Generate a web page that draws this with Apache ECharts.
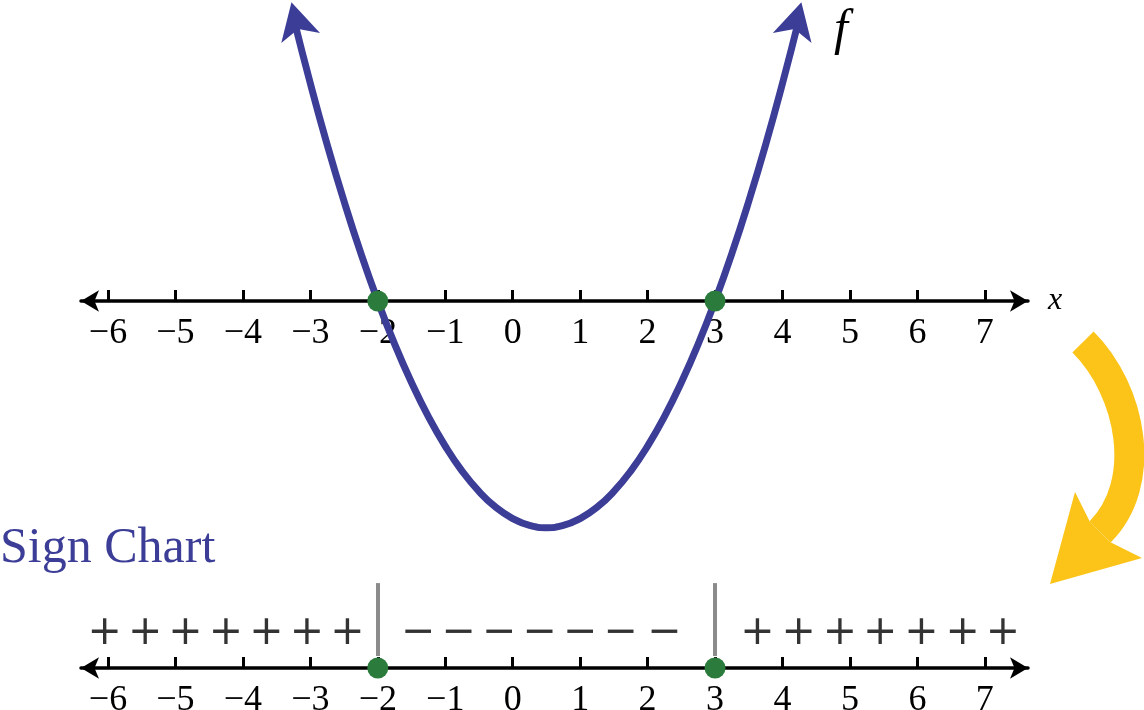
<!DOCTYPE html>
<html><head><meta charset="utf-8">
<script src="https://cdn.jsdelivr.net/npm/echarts@6/dist/echarts.min.js"></script>
<style>html,body{margin:0;padding:0;background:#fff}#c{width:1144px;height:710px}</style>
</head><body><div id="c"></div>
<script>
// ---- data ----
const tickValues = [-6, -5, -4, -3, -2, -1, 0, 1, 2, 3, 4, 5, 6, 7];
const curveX = [-3.25, -3, -2.75, -2.5, -2.25, -2, -1.75, -1.5, -1.25, -1, -0.75, -0.5, -0.25, 0, 0.25, 0.5,
  0.75, 1, 1.25, 1.5, 1.75, 2, 2.25, 2.5, 2.75, 3, 3.25, 3.5, 3.75, 4, 4.25];
const curveY = [7.81, 6, 4.31, 2.75, 1.31, 0, -1.19, -2.25, -3.19, -4, -4.69, -5.25, -5.69, -6, -6.19, -6.25,
  -6.19, -6, -5.69, -5.25, -4.69, -4, -3.19, -2.25, -1.19, 0, 1.31, 2.75, 4.31, 6, 7.81];
const arrowTipX = [-3.28, 4.28];
const arrowTipY = [8.24, 8.24];
const zeros = [-2, 3];
const plusLeftX = [-6.05, -5.45, -4.85, -4.25, -3.65, -3.05, -2.45];
const minusX = [-1.4, -0.8, -0.2, 0.4, 1.0, 1.6, 2.25];
const plusRightX = [3.63, 4.24, 4.85, 5.45, 6.06, 6.67, 7.27];
const signLabels = ['+', '\u2212'];

// ---- styles ----
const BLUE = '#3c3d97', GREEN = '#2b7b3c', GRAY = '#8b8b8b', YELLOW = '#fcc318';
const SERIF = 'Liberation Serif';
const signLevel = 1.15;

function numberAxis(gridIndex, name) {
  return {
    type: 'value', gridIndex: gridIndex, min: -6.4, max: 7.64, position: 'bottom',
    name: name || '', nameLocation: 'end', nameGap: 20,
    nameTextStyle: { fontFamily: SERIF, fontStyle: 'italic', fontSize: 32, color: '#000' },
    axisLine: { onZero: false, symbol: ['arrow', 'arrow'], symbolSize: [16, 18],
      lineStyle: { color: '#000', width: 3.5 } },
    axisTick: { show: true, inside: true, length: 11, customValues: tickValues,
      lineStyle: { color: '#000', width: 3 } },
    axisLabel: { show: true, customValues: tickValues, margin: 15,
      fontFamily: SERIF, fontSize: 36, color: '#000',
      formatter: function (v) { return v < 0 ? '\u2212' + Math.abs(v) : String(v); } },
    splitLine: { show: false }
  };
}

function signSeries(xs, ch) {
  return {
    type: 'scatter', xAxisIndex: 1, yAxisIndex: 1, silent: true, z: 6,
    symbolSize: 1, itemStyle: { color: 'transparent' },
    data: xs.map(function (x) { return [x, signLevel]; }),
    label: { show: true, position: 'inside', formatter: ch,
      fontFamily: 'DejaVu Sans', fontSize: 41, color: '#000' }
  };
}

const chart = echarts.init(document.getElementById('c'), null, { renderer: 'canvas' });
const option = {
  animation: false,
  backgroundColor: '#fff',
  title: [
    { text: 'Sign Chart', left: 0, top: 524, padding: 0,
      textStyle: { fontFamily: SERIF, fontSize: 50, fontWeight: 'normal', color: BLUE } },
    { text: 'f', left: 834, top: 6, padding: 0,
      textStyle: { fontFamily: SERIF, fontStyle: 'italic', fontSize: 50, fontWeight: 'normal', color: '#000' } }
  ],
  grid: [
    { left: 81, width: 947, top: 0, height: 301, outerBoundsMode: 'none', containLabel: false },
    { left: 81, width: 947, top: 578, height: 90, outerBoundsMode: 'none', containLabel: false }
  ],
  xAxis: [numberAxis(0, 'x'), numberAxis(1, '')],
  yAxis: [
    { type: 'value', gridIndex: 0, min: 0, max: 8.3, show: false },
    { type: 'value', gridIndex: 1, min: 0, max: 3, show: false }
  ],
  graphic: [
    { type: 'bezierCurve', silent: true,
      shape: { x1: 1083, y1: 342, x2: 1100, y2: 532, cpx1: 1132, cpy1: 391, cpx2: 1149, cpy2: 483 },
      style: { stroke: YELLOW, lineWidth: 30, fill: 'none', lineCap: 'butt' } },
    { type: 'polygon', silent: true,
      shape: { points: [[1050, 584], [1075, 492], [1090, 522], [1110, 542], [1142, 558]] },
      style: { fill: YELLOW } }
  ],
  series: [
    { id: 'curve', type: 'line', xAxisIndex: 0, yAxisIndex: 0, smooth: true, symbol: 'none',
      clip: false, silent: true, z: 3,
      lineStyle: { color: BLUE, width: 7 },
      data: curveX.map(function (x, i) { return [x, curveY[i]]; }) },
    { id: 'arrows', type: 'scatter', xAxisIndex: 0, yAxisIndex: 0, symbol: 'arrow',
      symbolSize: [30, 37], clip: false, silent: true, z: 4, itemStyle: { color: BLUE, opacity: 1 },
      data: arrowTipX.map(function (x, i) { return [x, arrowTipY[i]]; }) },
    { id: 'zerosTop', type: 'scatter', xAxisIndex: 0, yAxisIndex: 0, symbolSize: 21, silent: true, z: 5,
      clip: false, itemStyle: { color: GREEN, opacity: 1 },
      data: zeros.map(function (x) { return [x, 0]; }) },
    { id: 'zerosBottom', type: 'scatter', xAxisIndex: 1, yAxisIndex: 1, symbolSize: 21, silent: true, z: 5,
      clip: false, itemStyle: { color: GREEN, opacity: 1 },
      data: zeros.map(function (x) { return [x, 0]; }),
      markLine: { silent: true, symbol: 'none', label: { show: false },
        lineStyle: { color: GRAY, width: 4, type: 'solid', opacity: 1 },
        data: zeros.map(function (x) { return [{ coord: [x, 0.4] }, { coord: [x, 2.83] }]; }) } },
    signSeries(plusLeftX, signLabels[0]),
    signSeries(minusX, signLabels[1]),
    signSeries(plusRightX, signLabels[0])
  ]
};
chart.setOption(option);

// orient the curve's end arrows along the curve's end direction
function rot(i, j) {
  const a = chart.convertToPixel({ xAxisIndex: 0, yAxisIndex: 0 }, [curveX[i], curveY[i]]);
  const b = chart.convertToPixel({ xAxisIndex: 0, yAxisIndex: 0 }, [curveX[j], curveY[j]]);
  const dx = a[0] - b[0], dy = a[1] - b[1];
  return Math.atan2(-dx, -dy) * 180 / Math.PI;
}
const n = curveX.length;
chart.setOption({ series: [{ id: 'arrows', data: [
  { value: [arrowTipX[0], arrowTipY[0]], symbolRotate: rot(0, 1) },
  { value: [arrowTipX[1], arrowTipY[1]], symbolRotate: rot(n - 1, n - 2) }
] }] });
</script>
</body></html>
